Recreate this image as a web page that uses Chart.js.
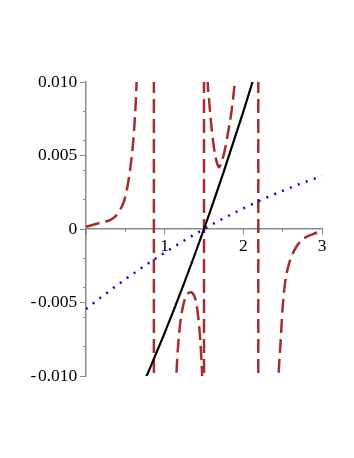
<!DOCTYPE html>
<html>
<head>
<meta charset="utf-8">
<script src="https://cdn.jsdelivr.net/npm/chart.js@4.4.1/dist/chart.umd.min.js"></script>
<style>
  html, body { margin: 0; padding: 0; background: #fff; }
</style>
</head>
<body>
<canvas id="plot" width="354" height="458"></canvas>
<script>
// tick values
const xTicks = [1, 2, 3];
const yTicks = [-0.01, -0.005, 0, 0.005, 0.01];

// black solid curve
const xBlack = [0.75, 1.0, 1.25, 1.5, 1.75, 2.0, 2.25];
const yBlack = [-0.01026, -0.00707, -0.00365, 0, 0.00388, 0.00798, 0.01232];

// blue dotted curve
const xBlue = [0, 0.25, 0.5, 0.75, 1.0, 1.25, 1.5, 1.75, 2.0, 2.25, 2.5, 2.75, 3.0];
const yBlue = [-0.00544, -0.00441, -0.00342, -0.00249, -0.00161, -0.00078, 0, 0.00073, 0.0014, 0.00203, 0.0026, 0.00313, 0.0036];

// brown dashed curve, one piece between each pair of poles
const xBrown1 = [0, 0.114, 0.2, 0.305, 0.38, 0.432, 0.47, 0.5, 0.537, 0.572, 0.601, 0.623, 0.635, 0.644, 0.65];
const yBrown1 = [0.00015, 0.00032, 0.00045, 0.00061, 0.0009, 0.00129, 0.0017, 0.0022, 0.0032, 0.0045, 0.006, 0.0077, 0.0089, 0.0101, 0.0115];
const xBrown2 = [1.13, 1.15, 1.17, 1.2, 1.24, 1.28, 1.33, 1.38, 1.41, 1.44, 1.46, 1.475, 1.485];
const yBrown2 = [-0.0125, -0.0098, -0.008, -0.0063, -0.0051, -0.0045, -0.0043, -0.0046, -0.0053, -0.0067, -0.0082, -0.0098, -0.012];
const xBrown3 = [1.535, 1.546, 1.56, 1.585, 1.617, 1.64, 1.665, 1.69, 1.72, 1.766, 1.8, 1.842, 1.87, 1.893, 1.905];
const yBrown3 = [0.013, 0.0101, 0.0091, 0.0075, 0.0059, 0.0051, 0.0045, 0.0042, 0.0045, 0.0054, 0.0064, 0.0077, 0.0089, 0.0101, 0.011];
const xBrown4 = [2.43, 2.449, 2.469, 2.499, 2.532, 2.576, 2.639, 2.723, 2.808, 2.914, 3.0];
const yBrown4 = [-0.0125, -0.0098, -0.0081, -0.0054, -0.0036, -0.00245, -0.00154, -0.00086, -0.00052, -0.00029, -0.0001];

// vertical jumps of the brown curve
const poles = [0.863, 1.5, 2.19];
const poleSpan = 0.0102;

const axisGray = '#8a8a8a';
const brown = '#a82c2c';
const labelFont = { family: '"Liberation Serif", "Times New Roman", serif', size: 17.5 };

function pts(xs, ys) {
  return xs.map((x, i) => ({ x: x, y: ys[i] }));
}

const poleData = [];
poles.forEach(p => {
  poleData.push({ x: p, y: poleSpan }, { x: p, y: -poleSpan }, { x: p, y: null });
});

function brownPiece(xs, ys) {
  return {
    data: pts(xs, ys),
    borderColor: brown,
    borderWidth: 2.5,
    borderDash: [14, 6],
    pointRadius: 0,
    cubicInterpolationMode: 'monotone'
  };
}

// labels of an axis placed at a value are drawn flush to it, so pad with an en space
function fmtY(v) {
  let s = Math.abs(v) < 1e-9 ? '0' : (v < 0 ? '-\u200a' : '') + Math.abs(v).toFixed(3);
  return s + '\u2002';
}

new Chart(document.getElementById('plot'), {
  type: 'line',
  data: {
    datasets: [
      {
        data: pts(xBlack, yBlack),
        borderColor: '#000',
        borderWidth: 2.2,
        pointRadius: 0,
        cubicInterpolationMode: 'monotone'
      },
      {
        data: pts(xBlue, yBlue),
        borderColor: '#0000ff',
        borderWidth: 2.5,
        borderDash: [2, 6.5],
        pointRadius: 0,
        cubicInterpolationMode: 'monotone'
      },
      brownPiece(xBrown1, yBrown1),
      brownPiece(xBrown2, yBrown2),
      brownPiece(xBrown3, yBrown3),
      brownPiece(xBrown4, yBrown4),
      {
        data: poleData,
        borderColor: brown,
        borderWidth: 2.5,
        borderDash: [14, 6],
        pointRadius: 0,
        tension: 0,
        spanGaps: false
      }
    ]
  },
  options: {
    responsive: false,
    animation: false,
    layout: { padding: { left: 86, right: 32, top: 82, bottom: 82 } },
    plugins: { legend: { display: false }, tooltip: { enabled: false } },
    scales: {
      x: {
        type: 'linear', min: 0, max: 3,
        position: { y: 0 },
        border: { color: axisGray, width: 1.5 },
        grid: { drawOnChartArea: false, tickLength: 5, color: axisGray, tickWidth: 1 },
        afterBuildTicks: s => { s.ticks = [0].concat(xTicks).map(v => ({ value: v })); },
        ticks: { font: labelFont, color: '#000', padding: 2, maxRotation: 0, autoSkip: false,
          callback: v => v === 0 ? '' : String(v) }
      },
      xm: {
        type: 'linear', min: 0, max: 3,
        position: { y: 0 },
        border: { display: false },
        grid: { drawOnChartArea: false, tickLength: 3, color: axisGray, tickWidth: 1 },
        ticks: { stepSize: 0.5, callback: () => '' }
      },
      y: {
        type: 'linear', min: -0.01, max: 0.01,
        position: { x: 0 },
        border: { color: axisGray, width: 1.5 },
        grid: { drawOnChartArea: false, tickLength: 5, color: axisGray, tickWidth: 1 },
        afterBuildTicks: s => { s.ticks = yTicks.map(v => ({ value: v })); },
        ticks: { font: labelFont, color: '#000', autoSkip: false, callback: fmtY }
      },
      ym: {
        type: 'linear', min: -0.01, max: 0.01,
        position: { x: 0 },
        border: { display: false },
        grid: { drawOnChartArea: false, tickLength: 3, color: axisGray, tickWidth: 1 },
        ticks: { stepSize: 0.001, callback: () => '' }
      }
    }
  }
});
</script>
</body>
</html>
